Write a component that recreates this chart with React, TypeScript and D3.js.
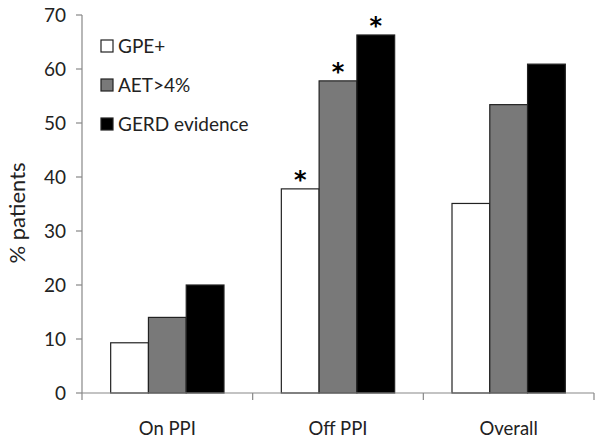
import React from "react";
import * as d3 from "d3";

const categories = ["On PPI", "Off PPI", "Overall"];
const seriesNames = ["GPE+", "AET>4%", "GERD evidence"];
const gpeValues = [9.3, 37.8, 35.1];
const aetValues = [14.0, 57.8, 53.4];
const gerdValues = [20.0, 66.3, 60.9];
const significant = [
  [false, true, false],
  [false, true, false],
  [false, true, false],
];
const yTicks = [0, 10, 20, 30, 40, 50, 60, 70];
const colors = ["#ffffff", "#797979", "#000000"];

const W = 604;
const H = 444;
const FONT = "Lato, 'Open Sans', sans-serif";

export default function App() {
  const left = 82;
  const right = 594;
  const top = 15;
  const bottom = 393;
  const x = d3.scaleBand<string>().domain(categories).range([left, right]).paddingInner(0).paddingOuter(0);
  const y = d3.scaleLinear().domain([0, 70]).range([bottom, top]);
  const groupW = x.bandwidth() * 0.664;
  const xs = d3.scaleBand<string>().domain(seriesNames).range([0, groupW]);
  const series = [gpeValues, aetValues, gerdValues];

  return (
    <svg width={W} height={H} style={{ position: "absolute", left: 0, top: 0, background: "#fff" }}>
      <rect x={0} y={0} width={W} height={H} fill="#fff" />
      {categories.map((c, ci) => {
        const gx = (x(c) as number) + (x.bandwidth() - groupW) / 2;
        return series.map((vals, si) => {
          const bx = gx + (xs(seriesNames[si]) as number);
          const by = y(vals[ci]);
          return (
            <g key={c + si}>
              <rect
                x={bx}
                y={by}
                width={xs.bandwidth()}
                height={bottom - by}
                fill={colors[si]}
                stroke="#222"
                strokeWidth={1.2}
              />
              {significant[si][ci] && (
                <text
                  x={bx + xs.bandwidth() / 2}
                  y={by - 1}
                  textAnchor="middle"
                  fontFamily="'DejaVu Sans', sans-serif"
                  fontWeight="bold"
                  fontSize={24}
                  fill="#000"
                >
                  *
                </text>
              )}
            </g>
          );
        });
      })}
      <line x1={left} x2={left} y1={top} y2={bottom} stroke="#888" strokeWidth={1.2} />
      {yTicks.map((t) => (
        <g key={t}>
          <line x1={left - 6} x2={left} y1={y(t)} y2={y(t)} stroke="#888" strokeWidth={1.2} />
          <text x={left - 16} y={y(t) + 7} textAnchor="end" fontFamily={FONT} fontSize={19} fill="#222">
            {t}
          </text>
        </g>
      ))}
      <line x1={left} x2={right} y1={bottom} y2={bottom} stroke="#888" strokeWidth={1.2} />
      {[...categories.map((c) => x(c) as number), right].map((px, i) => (
        <line key={i} x1={px} x2={px} y1={bottom} y2={bottom + 7} stroke="#888" strokeWidth={1.2} />
      ))}
      {categories.map((c) => (
        <text
          key={c}
          x={(x(c) as number) + x.bandwidth() / 2}
          y={435}
          textAnchor="middle"
          fontFamily={FONT}
          fontSize={18.5}
          fill="#222"
        >
          {c}
        </text>
      ))}
      <text
        transform={`translate(25,213) rotate(-90)`}
        textAnchor="middle"
        fontFamily={FONT}
        fontSize={22}
        fill="#222"
      >
        % patients
      </text>
      {seriesNames.map((n, i) => (
        <g key={n} transform={`translate(101,${40 + i * 39})`}>
          <rect x={0} y={0} width={12} height={12} fill={colors[i]} stroke="#222" strokeWidth={1.2} />
          <text x={17} y={12.5} fontFamily={FONT} fontSize={19} fill="#222">
            {n}
          </text>
        </g>
      ))}
    </svg>
  );
}
